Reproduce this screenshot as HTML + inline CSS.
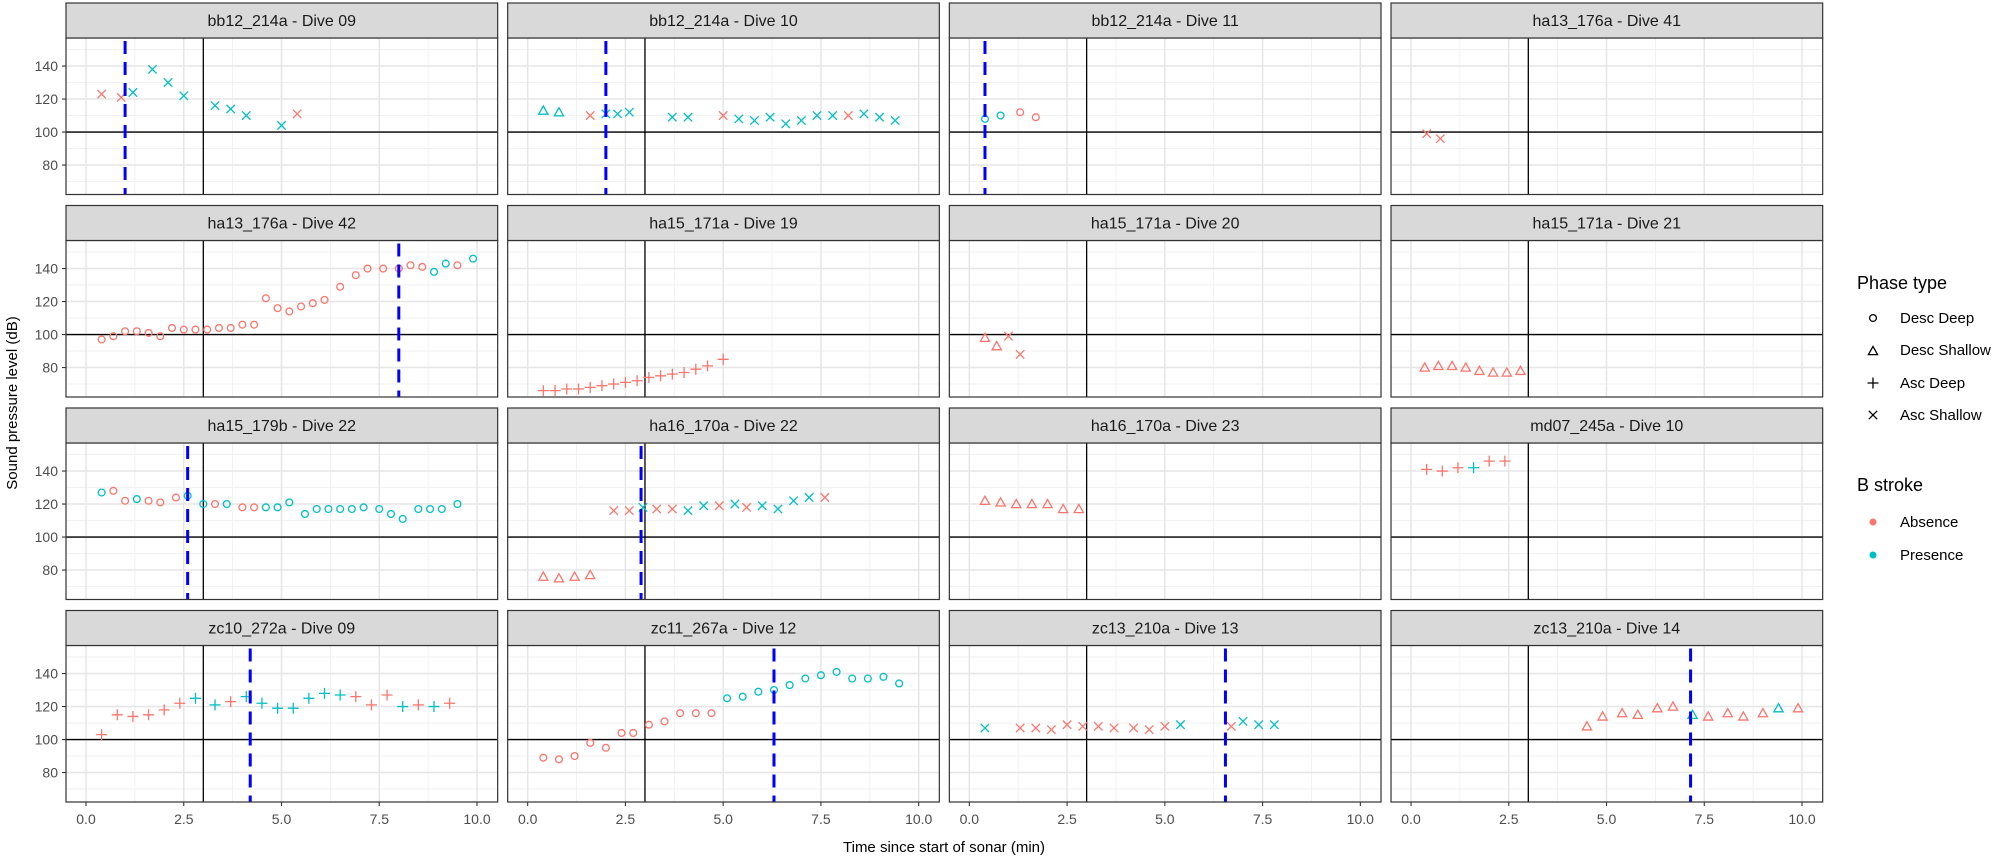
<!DOCTYPE html>
<html><head><meta charset="utf-8"><style>
html,body{margin:0;padding:0;background:#fff;}
svg{display:block;font-family:"Liberation Sans",Arial,sans-serif;}
</style></head><body>
<svg id="s" width="2008" height="859" viewBox="0 0 2008 859" xmlns="http://www.w3.org/2000/svg">
<rect width="2008" height="859" fill="#fff"/>
<g id="panels"></g>
<g font-size="16" fill="#1a1a1a" text-anchor="middle">
<text x="281.8" y="26">bb12_214a - Dive 09</text>
<text x="723.5" y="26">bb12_214a - Dive 10</text>
<text x="1165.2" y="26">bb12_214a - Dive 11</text>
<text x="1606.8" y="26">ha13_176a - Dive 41</text>
<text x="281.8" y="228.5">ha13_176a - Dive 42</text>
<text x="723.5" y="228.5">ha15_171a - Dive 19</text>
<text x="1165.2" y="228.5">ha15_171a - Dive 20</text>
<text x="1606.8" y="228.5">ha15_171a - Dive 21</text>
<text x="281.8" y="431">ha15_179b - Dive 22</text>
<text x="723.5" y="431">ha16_170a - Dive 22</text>
<text x="1165.2" y="431">ha16_170a - Dive 23</text>
<text x="1606.8" y="431">md07_245a - Dive 10</text>
<text x="281.8" y="633.5">zc10_272a - Dive 09</text>
<text x="723.5" y="633.5">zc11_267a - Dive 12</text>
<text x="1165.2" y="633.5">zc13_210a - Dive 13</text>
<text x="1606.8" y="633.5">zc13_210a - Dive 14</text>
</g>
<g font-size="14" fill="#4d4d4d" text-anchor="end">
<text x="58" y="71">140</text><text x="58" y="104">120</text><text x="58" y="137">100</text><text x="58" y="170">80</text>
<text x="58" y="273.5">140</text><text x="58" y="306.5">120</text><text x="58" y="339.5">100</text><text x="58" y="372.5">80</text>
<text x="58" y="476">140</text><text x="58" y="509">120</text><text x="58" y="542">100</text><text x="58" y="575">80</text>
<text x="58" y="678.5">140</text><text x="58" y="711.5">120</text><text x="58" y="744.5">100</text><text x="58" y="777.5">80</text>
</g>
<g font-size="14" fill="#4d4d4d" text-anchor="middle">
<text x="86" y="824">0.0</text><text x="183.8" y="824">2.5</text><text x="281.5" y="824">5.0</text><text x="379.3" y="824">7.5</text><text x="477" y="824">10.0</text>
<text x="527.7" y="824">0.0</text><text x="625.4" y="824">2.5</text><text x="723.2" y="824">5.0</text><text x="820.9" y="824">7.5</text><text x="918.7" y="824">10.0</text>
<text x="969.3" y="824">0.0</text><text x="1067.1" y="824">2.5</text><text x="1164.8" y="824">5.0</text><text x="1262.6" y="824">7.5</text><text x="1360.3" y="824">10.0</text>
<text x="1411" y="824">0.0</text><text x="1508.8" y="824">2.5</text><text x="1606.5" y="824">5.0</text><text x="1704.3" y="824">7.5</text><text x="1802" y="824">10.0</text>
</g>
<text x="944" y="852" font-size="15" fill="#000" text-anchor="middle">Time since start of sonar (min)</text>
<text transform="translate(17,403) rotate(-90)" font-size="15" fill="#000" text-anchor="middle">Sound pressure level (dB)</text>
<g font-size="18" fill="#000"><text x="1857" y="289">Phase type</text><text x="1857" y="491">B stroke</text></g>
<g font-size="15" fill="#000">
<text x="1900" y="323">Desc Deep</text><text x="1900" y="355">Desc Shallow</text><text x="1900" y="388">Asc Deep</text><text x="1900" y="420">Asc Shallow</text>
<text x="1900" y="527">Absence</text><text x="1900" y="560">Presence</text>
</g>
<g id="leg" fill="none" stroke="#000" stroke-width="1.2"></g>
</svg>
<script>
var NS="http://www.w3.org/2000/svg";
function el(p,t,a){var e=document.createElementNS(NS,t);for(var k in a)e.setAttribute(k,a[k]);p.appendChild(e);return e;}
var R="#F8766D",C="#00BFC4";
function mk(g,s,x,y,col){
  var a={fill:"none",stroke:col,"stroke-width":1.3};
  if(s=="o"){a.cx=x;a.cy=y;a.r=3.4;el(g,"circle",a);}
  else if(s=="t"){a.points=(x-4.6)+","+(y+3.6)+" "+(x+4.6)+","+(y+3.6)+" "+x+","+(y-4.6);el(g,"polygon",a);}
  else if(s=="p"){a.d="M"+(x-5.5)+","+y+"H"+(x+5.5)+"M"+x+","+(y-5.5)+"V"+(y+5.5);el(g,"path",a);}
  else {a.d="M"+(x-4.2)+","+(y-4.2)+"L"+(x+4.2)+","+(y+4.2)+"M"+(x-4.2)+","+(y+4.2)+"L"+(x+4.2)+","+(y-4.2);el(g,"path",a);}
}
// data: [shape, dash, points "t,v,c;..."]
var D=[
["x",1.0,"0.4,123,R;0.9,121,R;1.2,124,C;1.7,138,C;2.1,130,C;2.5,122,C;3.3,116,C;3.7,114,C;4.1,110,C;5.0,104,C;5.4,111,R"],
["x",2.0,"0.4,113,Ct;0.8,112,Ct;1.6,110,R;2.0,111,C;2.3,111,C;2.6,112,C;3.7,109,C;4.1,109,C;5.0,110,R;5.4,108,C;5.8,107,C;6.2,109,C;6.6,105,C;7.0,107,C;7.4,110,C;7.8,110,C;8.2,110,R;8.6,111,C;9.0,109,C;9.4,107,C"],
["o",0.4,"0.4,108,C;0.8,110,C;1.3,112,R;1.7,109,R"],
["x",null,"0.4,99,R;0.75,96,R"],
["o",8.0,"0.4,97,R;0.7,99,R;1.0,102,R;1.3,102,R;1.6,101,R;1.9,99,R;2.2,104,R;2.5,103,R;2.8,103,R;3.1,103,R;3.4,104,R;3.7,104,R;4.0,106,R;4.3,106,R;4.6,122,R;4.9,116,R;5.2,114,R;5.5,117,R;5.8,119,R;6.1,121,R;6.5,129,R;6.9,136,R;7.2,140,R;7.6,140,R;8.0,140,R;8.3,142,R;8.6,141,R;8.9,138,C;9.2,143,C;9.5,142,R;9.9,146,C"],
["p",null,"0.4,66,R;0.7,66,R;1.0,67,R;1.3,67,R;1.6,68,R;1.9,69,R;2.2,70,R;2.5,71,R;2.8,72,R;3.1,74,R;3.4,75,R;3.7,76,R;4.0,77,R;4.3,79,R;4.6,81,R;5.0,85,R"],
["t",null,"0.4,98,R;0.7,93,R;1.0,99,Rx;1.3,88,Rx"],
["t",null,"0.35,80,R;0.7,81,R;1.05,81,R;1.4,80,R;1.75,78,R;2.1,77,R;2.45,77,R;2.8,78,R"],
["o",2.6,"0.4,127,C;0.7,128,R;1.0,122,R;1.3,123,C;1.6,122,R;1.9,121,R;2.3,124,R;2.6,125,C;3.0,120,C;3.3,120,R;3.6,120,C;4.0,118,R;4.3,118,R;4.6,118,C;4.9,118,C;5.2,121,C;5.6,114,C;5.9,117,C;6.2,117,C;6.5,117,C;6.8,117,C;7.1,118,C;7.5,117,C;7.8,114,C;8.1,111,C;8.5,117,C;8.8,117,C;9.1,117,C;9.5,120,C"],
["x",2.9,"0.4,76,Rt;0.8,75,Rt;1.2,76,Rt;1.6,77,Rt;2.2,116,R;2.6,116,R;2.95,118,C;3.3,117,R;3.7,117,R;4.1,116,C;4.5,119,C;4.9,119,R;5.3,120,C;5.6,118,R;6.0,119,C;6.4,117,C;6.8,122,C;7.2,124,C;7.6,124,R"],
["t",null,"0.4,122,R;0.8,121,R;1.2,120,R;1.6,120,R;2.0,120,R;2.4,117,R;2.8,117,R"],
["p",null,"0.4,141,R;0.8,140,R;1.2,142,R;1.6,142,C;2.0,146,R;2.4,146,R"],
["p",4.2,"0.4,103,R;0.8,115,R;1.2,114,R;1.6,115,R;2.0,118,R;2.4,122,R;2.8,125,C;3.3,121,C;3.7,123,R;4.1,126,C;4.5,122,C;4.9,119,C;5.3,119,C;5.7,125,C;6.1,128,C;6.5,127,C;6.9,126,R;7.3,121,R;7.7,127,R;8.1,120,C;8.5,121,R;8.9,120,C;9.3,122,R"],
["o",6.3,"0.4,89,R;0.8,88,R;1.2,90,R;1.6,98,R;2.0,95,R;2.4,104,R;2.7,104,R;3.1,109,R;3.5,111,R;3.9,116,R;4.3,116,R;4.7,116,R;5.1,125,C;5.5,126,C;5.9,129,C;6.3,130,C;6.7,133,C;7.1,137,C;7.5,139,C;7.9,141,C;8.3,137,C;8.7,137,C;9.1,138,C;9.5,134,C"],
["x",6.55,"0.4,107,C;1.3,107,R;1.7,107,R;2.1,106,R;2.5,109,R;2.9,108,R;3.3,108,R;3.7,107,R;4.2,107,R;4.6,106,R;5.0,108,R;5.4,109,C;6.7,108,R;7.0,111,C;7.4,109,C;7.8,109,C"],
["t",7.15,"4.5,108,R;4.9,114,R;5.4,116,R;5.8,115,R;6.3,119,R;6.7,120,R;7.2,115,C;7.6,114,R;8.1,116,R;8.5,114,R;9.0,116,R;9.4,119,C;9.9,119,R"]
];
var P=document.getElementById("panels");
var W=431.67;
for(var i=0;i<16;i++){
  var r=Math.floor(i/4),c=i%4;
  var L=66+c*441.67, ST=3+r*202.5, T=ST+35, H=156.5;
  var X=function(t){return L+20+t*39.1;}, Y=function(v){return T+(157-v)*1.65;};
  var g=el(P,"g",{});
  el(g,"rect",{x:L,y:T,width:W,height:H,fill:"#fff"});
  [70,90,110,130,150].forEach(function(v){el(g,"line",{x1:L,x2:L+W,y1:Y(v),y2:Y(v),stroke:"#f1f1f1","stroke-width":1});});
  [1.25,3.75,6.25,8.75].forEach(function(t){el(g,"line",{x1:X(t),x2:X(t),y1:T,y2:T+H,stroke:"#f1f1f1","stroke-width":1});});
  [80,100,120,140].forEach(function(v){el(g,"line",{x1:L,x2:L+W,y1:Y(v),y2:Y(v),stroke:"#e6e6e6","stroke-width":1.5});});
  [0,2.5,5,7.5,10].forEach(function(t){el(g,"line",{x1:X(t),x2:X(t),y1:T,y2:T+H,stroke:"#e6e6e6","stroke-width":1.5});});
  el(g,"line",{x1:L,x2:L+W,y1:Y(100),y2:Y(100),stroke:"#000","stroke-width":1.3});
  el(g,"line",{x1:X(3),x2:X(3),y1:T,y2:T+H,stroke:"#000","stroke-width":1.3});
  var d=D[i];
  d[2].split(";").forEach(function(s){var q=s.split(",");var col=q[2][0]=="R"?R:C;var sh=q[2].length>1?q[2][1]:d[0];mk(g,sh,X(+q[0]),Y(+q[1]),col);});
  if(d[1]!=null) el(g,"line",{x1:X(d[1]),x2:X(d[1]),y1:T+3,y2:T+H,stroke:"#0000ff","stroke-width":3,"stroke-dasharray":"13 8"});
  el(g,"rect",{x:L,y:T,width:W,height:H,fill:"none",stroke:"#333","stroke-width":1.2});
  el(g,"rect",{x:L,y:ST,width:W,height:35,fill:"#d9d9d9",stroke:"#333","stroke-width":1.2});
  if(c==0)[80,100,120,140].forEach(function(v){el(g,"line",{x1:L-4,x2:L,y1:Y(v),y2:Y(v),stroke:"#333","stroke-width":1.1});});
  if(r==3)[0,2.5,5,7.5,10].forEach(function(t){el(g,"line",{x1:X(t),x2:X(t),y1:T+H,y2:T+H+4,stroke:"#333","stroke-width":1.1});});
}
var lg=document.getElementById("leg");
var ls=document.createElementNS(NS,"g");lg.appendChild(ls);
mk(ls,"o",1873,318,"#000");mk(ls,"t",1873,351,"#000");mk(ls,"p",1873,383,"#000");mk(ls,"x",1873,415,"#000");
el(lg,"circle",{cx:1873,cy:522,r:3.5,fill:R,stroke:"none"});
el(lg,"circle",{cx:1873,cy:555,r:3.5,fill:C,stroke:"none"});
</script>
</body></html>
